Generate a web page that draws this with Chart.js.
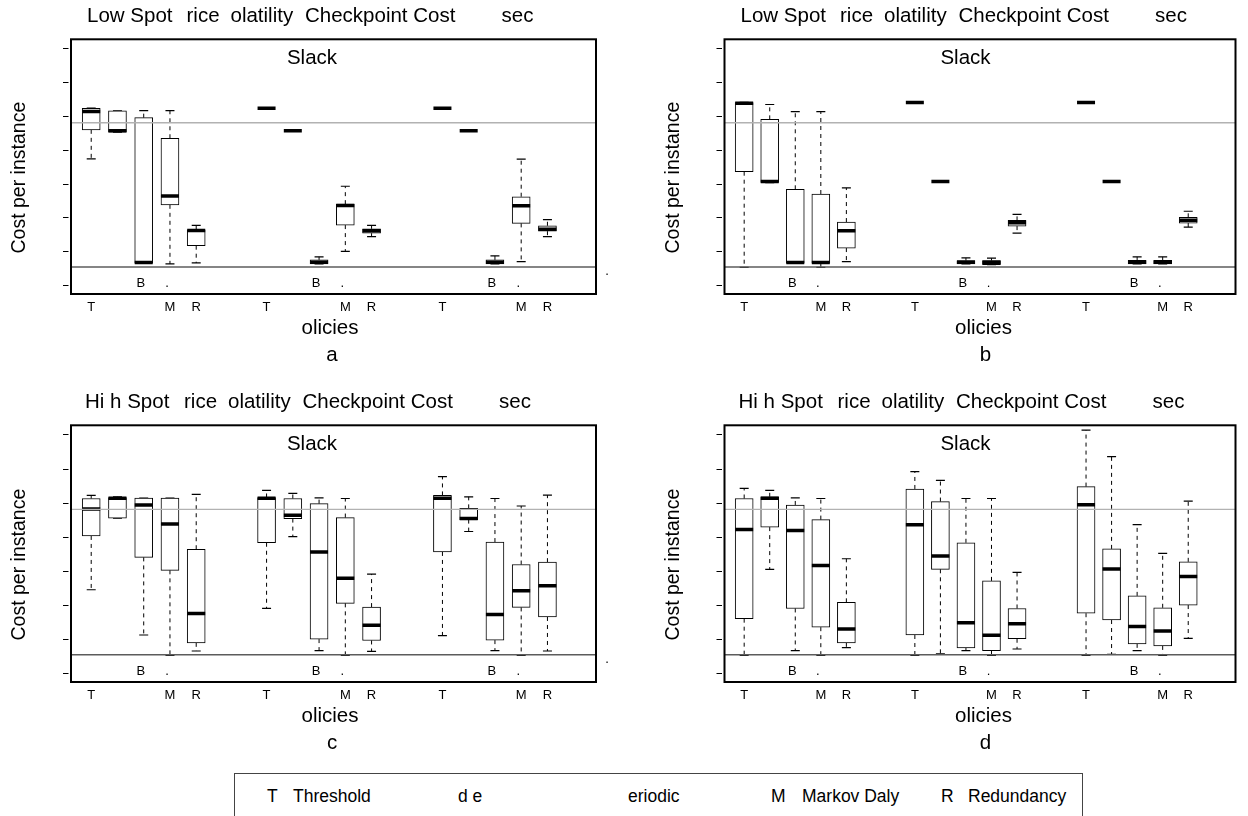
<!DOCTYPE html>
<html lang="en">
<head>
<meta charset="UTF-8">
<title>Slack cost per instance by policy</title>
<script src="https://cdn.jsdelivr.net/npm/chart.js"></script>
<style>
    body { margin: 0; background: #fff; font-family: "Liberation Sans", Arial, sans-serif; }
    .page { position: relative; width: 1248px; height: 816px; overflow: hidden; background: #fff; }
    .page canvas { position: absolute; }
    #legend { position: absolute; left: 234px; top: 773px; width: 847px; height: 70px; border: 1px solid #444; }
    #legend span { position: absolute; top: 14px; font-size: 17.5px; line-height: 1; white-space: pre; color: #000; }
</style>
</head>
<body>
<div class="page">
    <canvas id="pa" width="624" height="380" style="left:0;top:0"></canvas>
    <canvas id="pb" width="624" height="380" style="left:624px;top:0"></canvas>
    <canvas id="pc" width="624" height="380" style="left:0;top:380px"></canvas>
    <canvas id="pd" width="624" height="380" style="left:624px;top:380px"></canvas>
    <div id="legend">
        <span style="left:32px">T</span><span style="left:58px">Threshold</span>
        <span style="left:223px">d e</span>
        <span style="left:393px">eriodic</span>
        <span style="left:536px">M</span><span style="left:567px">Markov Daly</span>
        <span style="left:706px">R</span><span style="left:733px">Redundancy</span>
    </div>
</div>
<script>
// axis setup (tick labels were not printed in the original figure)
const yTicks = [0, 1, 2, 3, 4, 5, 6, 7];
const groupStarts = [0.77, 7.45, 14.15];
const labelsBelow = ['T', '', '', 'M', 'R'];
const labelsInside = ['', '', 'B', '.', ''];
const refHigh = 4.8;
const refLow = 0.53;

// box statistics, 3 groups x 5 policies per panel
// panel a
const aMin = [3.73, 4.52, 0.64, 0.62, 0.65, 5.23, 4.56, 0.62, 0.99, 1.43, 5.23, 4.56, 0.62, 0.69, 1.43];
const aQ1  = [4.59, 4.52, 0.64, 2.37, 1.16, 5.23, 4.56, 0.62, 1.77, 1.53, 5.23, 4.56, 0.62, 1.82, 1.59];
const aMed = [5.13, 4.56, 0.66, 2.63, 1.61, 5.23, 4.56, 0.67, 2.35, 1.60, 5.23, 4.56, 0.67, 2.34, 1.65];
const aQ3  = [5.23, 5.15, 4.95, 4.34, 1.63, 5.23, 4.56, 0.74, 2.39, 1.66, 5.23, 4.56, 0.74, 2.61, 1.75];
const aMax = [5.23, 5.15, 5.16, 5.16, 1.76, 5.23, 4.56, 0.83, 2.92, 1.76, 5.23, 4.56, 0.86, 3.72, 1.93];
// panel b
const bMin = [0.52, 3.03, 0.64, 0.52, 0.69, 5.40, 3.06, 0.62, 0.60, 1.53, 5.40, 3.06, 0.62, 0.62, 1.71];
const bQ1  = [3.35, 3.03, 0.64, 0.64, 1.09, 5.40, 3.06, 0.62, 0.60, 1.74, 5.40, 3.06, 0.62, 0.62, 1.83];
const bMed = [5.38, 3.06, 0.66, 0.66, 1.60, 5.40, 3.06, 0.67, 0.67, 1.84, 5.40, 3.06, 0.67, 0.67, 1.91];
const bQ3  = [5.40, 4.90, 2.83, 2.69, 1.86, 5.40, 3.06, 0.72, 0.72, 1.91, 5.40, 3.06, 0.73, 0.73, 2.00];
const bMax = [5.40, 5.34, 5.13, 5.13, 2.87, 5.40, 3.06, 0.80, 0.79, 2.09, 5.40, 3.06, 0.83, 0.83, 2.18];
// panel c
const cMin = [2.44, 4.54, 1.11, 0.51, 0.64, 1.89, 4.00, 0.65, 0.51, 0.63, 1.09, 4.15, 0.65, 0.51, 0.64];
const cQ1  = [4.02, 4.54, 3.39, 3.01, 0.88, 3.82, 4.53, 0.99, 2.04, 0.95, 3.55, 4.50, 0.96, 1.92, 1.64];
const cMed = [4.81, 5.13, 4.93, 4.37, 1.74, 5.13, 4.63, 3.55, 2.78, 1.40, 5.13, 4.53, 1.71, 2.41, 2.56];
const cQ3  = [5.12, 5.15, 5.13, 5.13, 3.63, 5.15, 5.12, 4.97, 4.56, 1.93, 5.21, 4.83, 3.84, 3.18, 3.25];
const cMax = [5.21, 5.17, 5.13, 5.13, 5.24, 5.36, 5.27, 5.14, 5.12, 2.90, 5.76, 5.17, 5.12, 4.90, 5.22];
// panel d
const dMin = [0.51, 3.04, 0.65, 0.51, 0.74, 0.51, 0.56, 0.65, 0.51, 0.70, 0.51, 0.54, 0.65, 0.51, 1.01];
const dQ1  = [1.59, 4.28, 1.89, 1.34, 0.88, 1.11, 3.04, 0.73, 0.65, 1.00, 1.75, 1.55, 0.85, 0.79, 1.99];
const dMed = [4.21, 5.13, 4.18, 3.15, 1.29, 4.35, 3.43, 1.47, 1.10, 1.44, 4.94, 3.05, 1.36, 1.23, 2.83];
const dQ3  = [5.12, 5.17, 4.93, 4.50, 2.07, 5.40, 5.03, 3.82, 2.70, 1.89, 5.47, 3.64, 2.26, 1.91, 3.26];
const dMax = [5.42, 5.36, 5.14, 5.12, 3.35, 5.91, 5.65, 5.12, 5.12, 2.95, 7.13, 6.35, 4.35, 3.51, 5.04];

const lowTitle = [['Low Spot', 16], ['rice', 115.5], ['olatility', 159.5], ['Checkpoint Cost', 234], ['sec', 430.5]];
const highTitle = [['Hi h Spot', 14], ['rice', 113], ['olatility', 157], ['Checkpoint Cost', 231.5], ['sec', 428]];

const FONT = '"Liberation Sans", Arial, sans-serif';

// frame, tick marks and all the text around each panel
const panelDecor = {
    id: 'panelDecor',
    afterDraw(chart, args, o) {
        const ctx = chart.ctx, a = chart.chartArea;
        const x = chart.scales.x, y = chart.scales.y;
        ctx.save();
        ctx.fillStyle = '#000';
        ctx.strokeStyle = '#000';
        ctx.lineWidth = 2;
        ctx.strokeRect(a.left, a.top, a.right - a.left, a.bottom - a.top);

        ctx.lineWidth = 1;
        ctx.beginPath();
        yTicks.forEach(v => {
            const py = Math.round(y.getPixelForValue(v)) + 0.5;
            ctx.moveTo(a.left - 8, py);
            ctx.lineTo(a.left - 2.5, py);
        });
        ctx.stroke();

        ctx.font = '20.5px ' + FONT;
        ctx.textBaseline = 'alphabetic';
        ctx.textAlign = 'left';
        o.title.forEach(([t, dx]) => ctx.fillText(t, a.left + dx, a.top - 17.6));
        ctx.textAlign = 'center';
        ctx.fillText('Slack', a.left + 241, a.top + 25);
        ctx.fillText('olicies', a.left + 259, a.bottom + 40);
        ctx.fillText(o.letter, a.left + 261, a.bottom + 66.5);

        ctx.save();
        ctx.translate(a.left - 46, (a.top + a.bottom) / 2 + 11);
        ctx.rotate(-Math.PI / 2);
        ctx.font = '19.5px ' + FONT;
        ctx.fillText('Cost per instance', 0, 0);
        ctx.restore();

        ctx.font = '13px ' + FONT;
        groupStarts.forEach(g => {
            labelsBelow.forEach((t, i) => {
                if (t) ctx.fillText(t, x.getPixelForValue(g + i), a.bottom + 17);
            });
            labelsInside.forEach((t, i) => {
                if (t) ctx.fillText(t, x.getPixelForValue(g + i) - 3, a.bottom - 7);
            });
        });
        if (o.dot) ctx.fillText('.', a.right + 11, a.bottom - 19);
        ctx.restore();
    }
};

function boxplotDatasets(s) {
    const pos = [];
    groupStarts.forEach(g => labelsBelow.forEach((_, i) => pos.push(g + i)));
    const whiskers = [];
    const caps = [];
    pos.forEach((p, i) => {
        whiskers.push({x: p, y: s.q3[i]}, {x: p, y: s.max[i]}, {x: p, y: null},
                      {x: p, y: s.q1[i]}, {x: p, y: s.min[i]}, {x: p, y: null});
        caps.push({x: p, y: s.min[i]}, {x: p, y: s.max[i]});
    });
    return [
        // reference lines sit on top of the boxes, as in the original
        {
            type: 'line', order: -1,
            data: [{x: 0, y: refHigh}, {x: 20, y: refHigh}],
            borderColor: '#b2b2b2', borderWidth: 1.3, pointRadius: 0
        },
        {
            type: 'line', order: -2,
            data: [{x: 0, y: refLow}, {x: 20, y: refLow}],
            borderColor: '#5c5c5c', borderWidth: 1.5, pointRadius: 0
        },
        {
            type: 'line', order: 4, data: whiskers,
            borderColor: '#000', borderWidth: 1, borderDash: [4, 4],
            pointRadius: 0, spanGaps: false
        },
        {
            type: 'line', order: 3, data: caps, showLine: false,
            pointStyle: 'line', pointRadius: 4.5, pointBorderWidth: 1.2, pointBorderColor: '#000'
        },
        {
            type: 'bar', order: 2,
            data: pos.map((p, i) => ({x: p, y: [s.q1[i], s.q3[i]]})),
            backgroundColor: '#fff', borderColor: '#000', borderWidth: 1,
            borderSkipped: false, barThickness: 18
        },
        {
            type: 'line', order: 1, showLine: false,
            data: pos.map((p, i) => ({x: p, y: s.med[i]})),
            pointStyle: 'line', pointRadius: 9, pointBorderWidth: 3.5, pointBorderColor: '#000'
        }
    ];
}

function drawPanel(id, stats, pad, title, letter, dot) {
    new Chart(document.getElementById(id), {
        type: 'bar',
        data: { datasets: boxplotDatasets(stats) },
        options: {
            responsive: false,
            animation: false,
            devicePixelRatio: 1,
            events: [],
            layout: { padding: pad },
            plugins: {
                legend: { display: false },
                tooltip: { enabled: false },
                panelDecor: { title: title, letter: letter, dot: dot }
            },
            scales: {
                x: { type: 'linear', min: 0, max: 20, offset: false, display: false },
                y: { type: 'linear', min: -0.27, max: 7.27, display: false }
            }
        },
        plugins: [panelDecor]
    });
}

drawPanel('pa', {min: aMin, q1: aQ1, med: aMed, q3: aQ3, max: aMax},
          {left: 71, right: 28, top: 39.3, bottom: 86}, lowTitle, 'a', true);
drawPanel('pb', {min: bMin, q1: bQ1, med: bMed, q3: bQ3, max: bMax},
          {left: 100.5, right: 1, top: 39.3, bottom: 86}, lowTitle, 'b', false);
drawPanel('pc', {min: cMin, q1: cQ1, med: cMed, q3: cQ3, max: cMax},
          {left: 71, right: 28, top: 45.3, bottom: 78}, highTitle, 'c', true);
drawPanel('pd', {min: dMin, q1: dQ1, med: dMed, q3: dQ3, max: dMax},
          {left: 100.5, right: 1, top: 45.3, bottom: 78}, highTitle, 'd', false);
</script>
</body>
</html>
